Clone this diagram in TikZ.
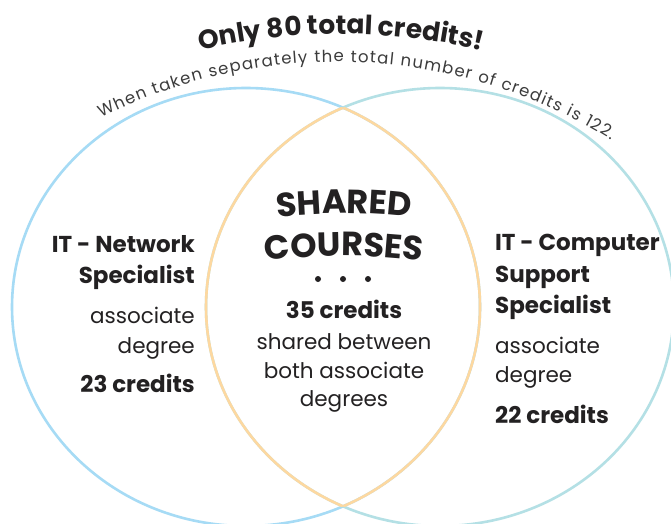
\documentclass[tikz,border=0pt]{standalone}
\usepackage{fontspec}
\setmainfont{Poppins}
\usetikzlibrary{decorations.text}

\newcommand\bigheadfont{\fontsize{26.5}{30}\selectfont\bfseries}
\newcommand\subheadfont{\fontsize{16.5}{19}\selectfont}
\newcommand\sharedfont{\fontsize{33.5}{38}\selectfont\bfseries}

\begin{document}
\begin{tikzpicture}[x=1pt,y=1pt]
  % Colors
  \definecolor{netblue}{RGB}{166,219,245}
  \definecolor{supteal}{RGB}{180,224,229}
  \definecolor{lensorange}{RGB}{253,216,160}
  \definecolor{ink}{RGB}{35,33,34}
  \definecolor{softink}{RGB}{60,60,60}

  % Styles
  \tikzstyle{ring}=[line width=2.6pt]
  \tikzstyle{head}=[inner sep=0pt,text=ink,font=\fontsize{23}{28}\selectfont\bfseries]
  \tikzstyle{body}=[inner sep=0pt,text=ink,font=\fontsize{21.5}{26}\selectfont]

  % The graphic
  \fill[white] (0,0) rectangle (671,-523);
  \useasboundingbox (0,0) rectangle (671,-523);

  \draw[ring,netblue] (246,-307) ellipse [x radius=234pt, y radius=219pt];
  \draw[ring,supteal] (440,-307) ellipse [x radius=234pt, y radius=219pt];

  % the shared lens
  \begin{scope}
    \clip (246,-307) ellipse [x radius=234pt, y radius=219pt];
    \draw[ring,lensorange] (440,-307) ellipse [x radius=234pt, y radius=219pt];
  \end{scope}
  \begin{scope}
    \clip (440,-307) ellipse [x radius=234pt, y radius=219pt];
    \draw[ring,lensorange] (246,-307) ellipse [x radius=234pt, y radius=219pt];
  \end{scope}

  % curved headings
  \path[decorate,decoration={text along path,text align=center,
      text={|\color{ink}\bigheadfont|Only 80 total credits!}}]
    (341,-649) ++(110:615) arc[start angle=110,end angle=70,radius=615pt];
  \path[decorate,decoration={text along path,text align=fit to path,
      text={|\color{softink}\subheadfont|When taken separately the total number of credits is 122.}}]
    (336.4,-583.8) ++(116.8:522) arc[start angle=116.8,end angle=58.3,radius=522pt];
  \path[decorate,decoration={text along path,text align=center,
      text={|\color{ink}\sharedfont|SHARED}}]
    (344,-813.5) ++(100:600) arc[start angle=100,end angle=80,radius=600pt];
  \path[decorate,decoration={text along path,text align=center,
      text={|\color{ink}\sharedfont|COURSES}}]
    (344,-856) ++(100:600) arc[start angle=100,end angle=80,radius=600pt];

  \foreach \x in {318,343,368}
    \fill[ink] (\x,-279) circle (3pt);

  % left circle
  \foreach \txt/\y/\s [count=\i] in {IT - Network/252/head, Specialist/283/head,
      associate/323/body, degree/353/body, 23 credits/392/head}
    \node[\s,anchor=base east] (net\i) at (195,-\y) {\txt};

  % shared part
  \foreach \txt/\y/\s [count=\i] in {35 credits/318/head, shared between/349/body,
      both associate/378/body, degrees/406/body}
    \node[\s,anchor=base] (shared\i) at (344,-\y) {\txt};

  % right circle
  \foreach \txt/\y/\s [count=\i] in {IT - Computer/250/head, Support/282/head,
      Specialist/313/head, associate/353/body, degree/382/body, 22 credits/423/head}
    \node[\s,anchor=base west] (sup\i) at (495,-\y) {\txt};
\end{tikzpicture}
\end{document}
